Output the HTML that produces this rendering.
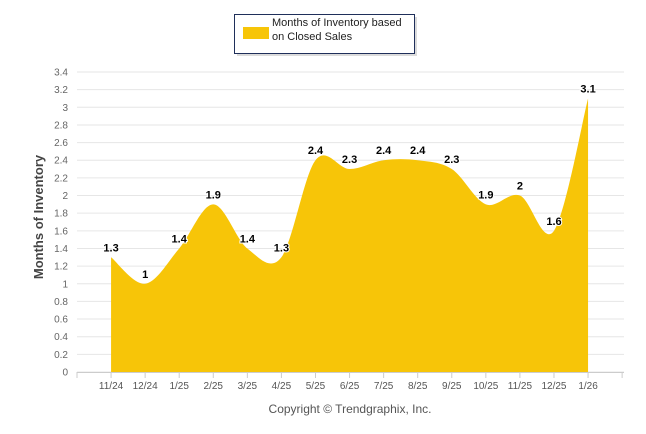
<!DOCTYPE html>
<html><head><meta charset="utf-8"><style>
body{margin:0;background:#fff;font-family:"Liberation Sans",sans-serif}
svg{display:block}
</style></head><body>
<svg id="c" width="646" height="434">
<g>
<rect x="237" y="17" width="180" height="39" fill="#999" opacity="0.35"/>
<rect x="234.5" y="14.5" width="180" height="39" fill="#fff" stroke="#1f2f5a" stroke-width="1"/>
<rect x="243" y="27" width="26" height="12" fill="#f7c508"/>
<text x="272" y="26" font-size="11" fill="#222">Months of Inventory based</text>
<text x="272" y="40" font-size="11" fill="#222">on Closed Sales</text>
</g>
<g id="grid"></g>
<path id="area" fill="#f7c508"/>
<g id="labels"></g>
<text transform="translate(43,217) rotate(-90)" text-anchor="middle" font-size="13" font-weight="bold" fill="#444">Months of Inventory</text>
<text x="350" y="413" text-anchor="middle" font-size="12" fill="#555">Copyright © Trendgraphix, Inc.</text>
</svg>
<script>
const categories=["11/24","12/24","1/25","2/25","3/25","4/25","5/25","6/25","7/25","8/25","9/25","10/25","11/25","12/25","1/26"];
const values=[1.3,1,1.4,1.9,1.4,1.3,2.4,2.3,2.4,2.4,2.3,1.9,2,1.6,3.1];
const yTicks=[0,0.2,0.4,0.6,0.8,1,1.2,1.4,1.6,1.8,2,2.2,2.4,2.6,2.8,3,3.2,3.4];
const NS="http://www.w3.org/2000/svg";
const x0=77,step=34.07,y0=372,yMax=3.4,yH=300,xEnd=624;
const X=i=>x0+step*(i+1);
const Y=v=>y0-v/yMax*yH;
function mk(t,a,p){const e=document.createElementNS(NS,t);for(const k in a)e.setAttribute(k,a[k]);p.appendChild(e);return e;}
const g=document.getElementById('grid');
yTicks.forEach(v=>{
 const l=mk('line',{x1:x0,x2:xEnd,y1:Y(v),y2:Y(v),stroke:'#e6e6e6','stroke-width':1},g);
 
 
 const t=mk('text',{x:68,y:Y(v)+3.5,'text-anchor':'end','font-size':10,fill:'#666'},g);
 t.textContent=String(v);
 
 
});
mk('line',{x1:x0,x2:xEnd,y1:y0+0.5,y2:y0+0.5,stroke:'#ccc'},g);
for(let i=0;i<=categories.length+1;i++){
 mk('line',{x1:x0+step*i,x2:x0+step*i,y1:y0,y2:y0+6,stroke:'#ccc'},g);
}
categories.forEach((c,i)=>{
 const t=mk('text',{x:X(i),y:y0+17,'text-anchor':'middle','font-size':10,fill:'#555'},g);
 t.textContent=c;
 
 
});
const pts=values.map((v,i)=>({x:X(i),y:Y(v)}));
let dp=`M${pts[0].x},${y0} L${pts[0].x},${pts[0].y}`;
for(let i=1;i<pts.length;i++){
 const p0=pts[Math.max(0,i-2)],a=pts[i-1],b=pts[i],p3=pts[Math.min(pts.length-1,i+1)];
 const c1x=a.x+(b.x-p0.x)/6,c1y=a.y+(b.y-p0.y)/6;
 const c2x=b.x-(p3.x-a.x)/6,c2y=b.y-(p3.y-a.y)/6;
 dp+=` C${c1x},${c1y} ${c2x},${c2y} ${b.x},${b.y}`;
}
dp+=` L${pts[pts.length-1].x},${y0} Z`;
document.getElementById('area').setAttribute('d',dp);
const lg=document.getElementById('labels');
values.forEach((v,i)=>{
 const t=mk('text',{x:X(i),y:Y(v)-6,'text-anchor':'middle','font-size':11,'font-weight':'bold',fill:'#000',stroke:'#fff','stroke-width':2,'paint-order':'stroke'},lg);
 t.textContent=String(v);
 
 
});
</script>
</body></html>
